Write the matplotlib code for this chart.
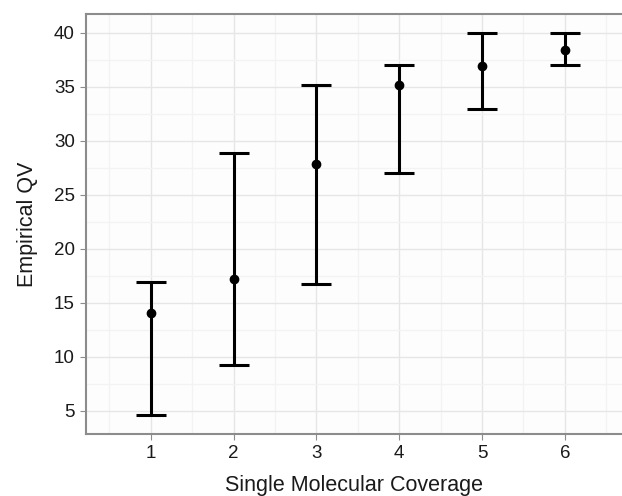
import matplotlib
matplotlib.use('Agg')
import matplotlib.pyplot as plt
from matplotlib.ticker import MultipleLocator

# Valores
cobertura = [1, 2, 3, 4, 5, 6]
qv_medio = [14.1, 17.2, 27.9, 35.2, 36.9, 38.4]
qv_inferior = [4.6, 9.3, 16.8, 27.0, 33.0, 37.0]
qv_superior = [16.9, 28.9, 35.2, 37.0, 40.0, 40.0]

plt.rcParams['font.family'] = ['Liberation Sans', 'DejaVu Sans']

fig = plt.figure(figsize=(6.22, 4.96), dpi=100)
ax = fig.add_axes([0.138, 0.125, 0.862, 0.847])
ax.set_facecolor('#fdfdfd')

# Barras de erro
erro_baixo = [m - i for m, i in zip(qv_medio, qv_inferior)]
erro_cima = [s - m for m, s in zip(qv_medio, qv_superior)]
ax.errorbar(cobertura, qv_medio, yerr=[erro_baixo, erro_cima], fmt='none',
            ecolor='black', elinewidth=2.2, capsize=10.5, capthick=2.2, zorder=3)
ax.plot(cobertura, qv_medio, 'o', color='black', markersize=6, zorder=4)

ax.set_xlim(0.215, 6.69)
ax.set_ylim(2.87, 41.76)
ax.xaxis.set_major_locator(MultipleLocator(1))
ax.xaxis.set_minor_locator(MultipleLocator(0.5))
ax.yaxis.set_major_locator(MultipleLocator(5))
ax.yaxis.set_minor_locator(MultipleLocator(2.5))

ax.grid(which='major', color='#e6e6e6', linewidth=1.0, zorder=0)
ax.grid(which='minor', color='#f3f3f3', linewidth=1.0, zorder=0)
ax.set_axisbelow(True)

for lado in ['left', 'bottom', 'top']:
    ax.spines[lado].set_color('#8c8c8c')
    ax.spines[lado].set_linewidth(1.5)
ax.spines['right'].set_visible(False)

ax.tick_params(which='major', length=4, color='#8c8c8c', labelsize=13.5,
               labelcolor='#1a1a1a', pad=4)
ax.tick_params(which='minor', length=0)

ax.set_xlabel('Single Molecular Coverage', fontsize=15.5, color='#1a1a1a', labelpad=9)
ax.set_ylabel('Empirical QV', fontsize=15.5, color='#1a1a1a', labelpad=11)

fig.savefig('out.png', dpi=100, facecolor='white')
